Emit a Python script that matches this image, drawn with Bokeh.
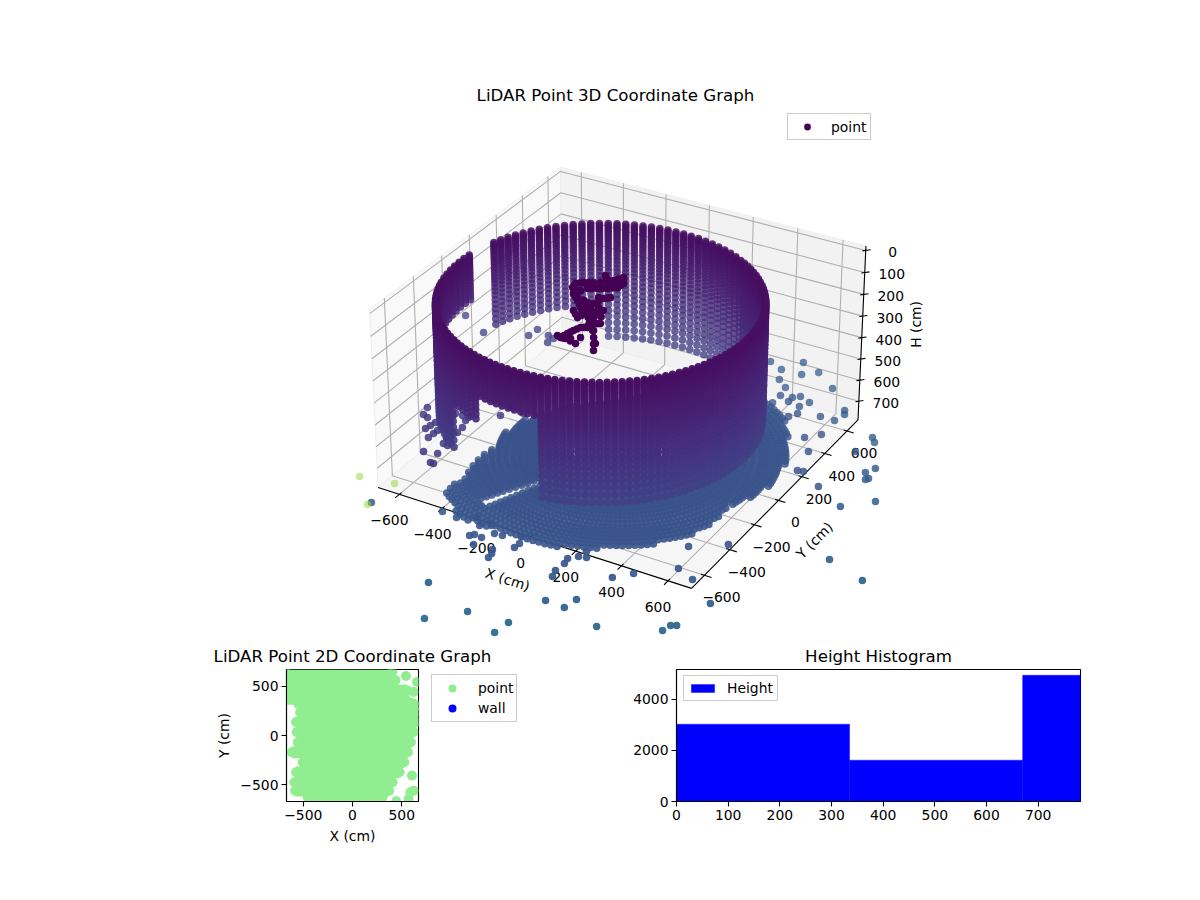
import math
import numpy as np
from bokeh.plotting import figure
from bokeh.layouts import column, row
from bokeh.models import Range1d, FixedTicker, Legend, LegendItem, ColumnDataSource
from bokeh.core.properties import value
from bokeh.palettes import Viridis256
from bokeh.embed import file_html
from bokeh.resources import INLINE

# ------------------------------------------------------------------ data
x_ticks = [-600, -400, -200, 0, 200, 400, 600]
y_ticks = [-600, -400, -200, 0, 200, 400, 600]
h_ticks = [0, 100, 200, 300, 400, 500, 600, 700]
x_lim = [-700, 700]
y_lim = [-700, 700]
h_lim = [-20, 790]

wall_centre = [-1, -165]
wall_radius = 630
wall_azimuth = [0,2.5,5,7.5,10,12.5,15,17.5,20,22.5,25,27.5,30,32.5,35,37.5,40,42.5,45,47.5,50,52.5,55,57.5,
                60,63.2,66.4,69.6,72.8,76,79.2,82.4,85.6,88.8,92,95.2,98.4,101.6,104.8,108,111.2,114.4,117.6,120.8,124,127.2,130.4,133.6,136.8,140,
                143.2,146.4,149.6,152.8,156,159.2,162.4,165.6,168.8,172,175.2,178.4,181.6,184.8,188,191.2,194.4,197.6,
                200,202.5,205,207.5,210,212.5,215,217.5,220,222.5,225,227.5,230,232.5,235,237.5,240,242.5,245,247.5,250,252.5,255,257.5,
                260,262.5,265,267.5,270,272.5,275,277.5,280,282.5,285,287.5,290,292.5,295,297.5,300,302.5,305,307.5,310,312.5,315,317.5,
                320,322.5,325,327.5,330,332.5,335,337.5,340,342.5,345,347.5,350,352.5,355,357.5]
wall_height = [0,8,16,25,34,44,54,65,76,88,100,113,126,140,155,170,186,203,221,240,260,281,303,326,350,375,402,430,460,492,526]
wall_span_start = [0, 120, 163, 174, 208, 240, 255, 280]
wall_span_end = [120, 163, 174, 208, 240, 255, 280, 360]
wall_span_depth = [526, 400, -1, 220, 500, 300, 170, 526]

floor_height = 785
floor_azimuth = [0,2,4,6,8,10,12,14,16,18,20,22,24,26,28,30,32,34,36,38,40,42,44,46,48,50,52,54,56,58,
                 60,62,64,66,68,70,72,74,76,78,80,82,84,86,88,90,92,94,96,98,100,102,104,106,108,110,112,114,116,118,
                 120,122,124,126,128,130,132,134,136,138,140,142,144,146,148,150,152,154,156,158,160,162,164,166,168,170,172,174,176,178,
                 180,182,184,186,188,190,192,194,196,198,200,202,204,206,208,210,212,214,216,218,220,222,224,226,228,230,232,234,236,238,
                 240,242,244,246,248,250,252,254,256,258,260,262,264,266,268,270,272,274,276,278,280,282,284,286,288,290,292,294,296,298,
                 300,302,304,306,308,310,312,314,316,318,320,322,324,326,328,330,332,334,336,338,340,342,344,346,348,350,352,354,356,358]
floor_radius = [35,70,105,140,175,210,240,270,298,326,354,382,410,438,466,494,522,550,575,600,625,650,675,700,725,750,775]
floor_outline_az = [6, 39, 62, 82, 131, 166, 182, 206, 226, 234, 248, 258, 278, 297, 322, 346]
floor_outline_r = [629, 676, 729, 529, 382, 434, 480, 521, 645, 758, 786, 749, 731, 691, 663, 574]
floor_gap_az = [244, 247]
floor_gap_r = [330, 660]

stray_x = [-657,-163,65,-47,232,222,523,276,359,371,413,468,205,216,210,203,232,261,240,-59,-63,-75,-155,-10,-8,-202,-189,-155,-127,-93,-27,-206,-167,-313,-383,-247,811,743,753,772,597,678,558,682,1060,1229,931,792,1033,927,906,929,936,814,838,802,626,640,578,667,691,623,559,623,637,468,447,449,470,416,391,392,299,392,338,501,246,277,329,176,341]
stray_y = [-810,-1161,-1248,-1365,-1233,-1312,-1094,-1045,-1049,-982,-791,-728,-857,-897,-800,-765,-733,-723,-688,-908,-879,-854,-861,-801,-768,-816,-801,-805,-757,-754,-723,-738,-715,-735,-726,-696,-758,-996,-954,-943,-615,-653,-466,-378,-278,-343,74,161,174,392,346,299,312,599,568,468,517,374,462,225,230,641,641,733,704,615,576,669,718,743,719,682,999,956,906,867,901,823,777,937,709]
far_x = [-804, -656, -662]
far_y = [-676, -650, -829]
object_height = 100
object_x = [-235,-242,-219,-185,-174,-138,-125,-104,-79,-83,-113,-147,-180,-207,-164,-126,-109,-98,-85,-66,-45,-40,-22,-45,-56,-64,-71,-51,2,-18,38,88,5,-37,-85,-95,-137,-203,-177,-106,-65,7,67,-5,-34,-89,
            -238,-230,-202,-161,-156,-131,-114,-91,-81,-98,-130,-163,-193,-185,-150,-115,-100,
            -185,-145,-117,-103,-91,-75,-145,-120,
            -42,-31,-33,-50,-60,-67,-61,-25,10,63,-6,-60,-70,-90,-116,-111,-75,-55,-20]
object_y = [17,51,73,93,167,121,147,188,145,105,78,58,39,-24,-64,-107,-97,-54,0,21,-115,-177,-230,-243,-277,-308,-348,-345,-359,-191,-285,-371,-178,-83,-139,-181,-141,7,-44,-3,-72,-240,-321,-310,-335,-340,
            34,62,83,107,144,134,167,166,125,91,68,48,8,66,90,112,130,
            -44,-85,-102,-75,-27,10,-50,-60,
            -146,-203,-236,-260,-292,-328,-346,-352,-238,-328,-185,-160,-125,-160,-161,-122,-105,-95,-130]
cluster_height = 600
cluster_x = [-675,-691,-521,-562,-561,-609,-560,-487,-496,-484,-488,-569,-537,-508,-506,-549,-579,-600,-605,-501,-466,-440,-454,-465,-648,-621,-580,-407,-402,-336,-335]
cluster_y = [-404,-351,-638,-541,-506,-490,-479,-549,-485,-453,-411,-335,-334,-335,-360,-402,-429,-432,-461,-506,-623,-692,-692,-554,-416,-364,-376,-259,-184,-200,-128]
inner_height = 526
inner_x = [-893,-579,-574,-482,-509,-478,-752]
inner_y = [249,236,297,225,276,265,165]

row_y = [644,560,458,373,322,237,136,34,-68,-170,-271,-373,-475,-560,-628,-678]
row_left = [-680,-680,-680,-680,-550,-532,-573,-566,-556,-617,-505,-573,-590,-583,-455,-387]
row_right = [404,438,556,539,620,650,650,620,593,563,526,478,407,373,305,237]
blob_x = [543,655,621,655,604,587,444,621,570]
blob_y = [604,543,441,305,-407,-577,-668,-560,-644]

hist_edges = [0, 335, 670, 785]
hist_counts = [3030, 1620, 4950]

FONT = "DejaVu Sans"
TICK = "13.9px"
TITLE = "16.67px"

# ------------------------------------------------------------------ view of the 3D box
el, az = math.radians(30), math.radians(-60)
view_n = np.array([math.cos(el)*math.cos(az), math.cos(el)*math.sin(az), math.sin(el)])
view_u = np.array([-view_n[1], view_n[0], 0.0]); view_u /= np.linalg.norm(view_u)
view_v = np.cross(view_n, view_u)
HALF_XY, HALF_H, DIST = 0.5952, 0.339, 10.0


def box(x, y, h):
    x = np.asarray(x, float); y = np.asarray(y, float); h = np.asarray(h, float)
    return (x/x_lim[1]*HALF_XY, y/y_lim[1]*HALF_XY, HALF_H-(h-h_lim[0])/(h_lim[1]-h_lim[0])*2*HALF_H)


def depth(x, y, h):
    a, b, c = box(x, y, h)
    return view_n[0]*a+view_n[1]*b+view_n[2]*c


def proj(x, y, h):
    a, b, c = box(x, y, h)
    d = DIST-(view_n[0]*a+view_n[1]*b+view_n[2]*c)
    return ((view_u[0]*a+view_u[1]*b)/d, (view_v[0]*a+view_v[1]*b+view_v[2]*c)/d)


def path(pts):
    xs, ys = proj([p[0] for p in pts], [p[1] for p in pts], [p[2] for p in pts])
    return list(xs), list(ys)


# ------------------------------------------------------------------ point cloud
wx, wy, wh, wt = [], [], [], []
for a in wall_azimuth:
    limit = 0
    for s, e, d in zip(wall_span_start, wall_span_end, wall_span_depth):
        if s <= a < e:
            limit = d
    for h in wall_height:
        if h <= limit:
            wx.append(wall_centre[0]+wall_radius*math.cos(math.radians(a)))
            wy.append(wall_centre[1]+wall_radius*math.sin(math.radians(a)))
            wh.append(h)
            wt.append(float(np.interp(h, [0, 526], [0.04, 0.19])))

fx, fy, fh, ft = [], [], [], []
for a in floor_azimuth:
    edge = float(np.interp(a, floor_outline_az, floor_outline_r, period=360))
    for r in floor_radius:
        if r > edge:
            continue
        if floor_gap_az[0] <= a <= floor_gap_az[1] and floor_gap_r[0] <= r <= floor_gap_r[1]:
            continue
        fx.append(r*math.cos(math.radians(a)))
        fy.append(r*math.sin(math.radians(a)))
        fh.append(floor_height)
        ft.append(0.23+0.04*r/800)

sx_t = [float(np.interp(math.hypot(a, b), [500, 1500], [0.22, 0.38])) for a, b in zip(stray_x, stray_y)]
all_x = np.array(wx+fx+stray_x+far_x+object_x+cluster_x+inner_x, float)
all_y = np.array(wy+fy+stray_y+far_y+object_y+cluster_y+inner_y, float)
all_h = np.array(wh+fh+[floor_height]*len(stray_x)+[floor_height]*len(far_x)+[object_height]*len(object_x)
                 + [cluster_height]*len(cluster_x)+[inner_height]*len(inner_x), float)
all_t = np.array(wt+ft+sx_t+[0.85]*len(far_x)+[0.0]*len(object_x)+[0.17]*len(cluster_x)+[0.2]*len(inner_x))
dep = depth(all_x, all_y, all_h)
order = np.argsort(dep)
px, py = proj(all_x, all_y, all_h)
cols = [Viridis256[int(t*255)] for t in all_t]
alphas = np.interp(dep, [-0.6, 0.55], [0.74, 0.95])
far_at = len(wx)+len(fx)+len(stray_x)
alphas[far_at:far_at+len(far_x)] = 0.55
alphas[far_at+len(far_x):far_at+len(far_x)+len(object_x)] = 1.0
cloud = ColumnDataSource(dict(x=px[order], y=py[order], c=[cols[i] for i in order], a=alphas[order]))
key_index = int(np.where(order == far_at+len(far_x))[0][0])

# ------------------------------------------------------------------ 3D figure
p3 = figure(width=1192, height=640, output_backend="svg", toolbar_location=None,
            x_range=Range1d((38-622)/3000, (1192-622)/3000), y_range=Range1d((366-640)/3000, (366-106)/3000),
            min_border_left=38, min_border_right=0, min_border_top=106, min_border_bottom=0,
            title="LiDAR Point 3D Coordinate Graph")
p3.title.align = "center"; p3.title.text_font = FONT; p3.title.text_font_size = TITLE
p3.title.text_font_style = "normal"; p3.title.standoff = 3; p3.title.text_color = "black"
p3.axis.visible = False; p3.grid.visible = False; p3.outline_line_color = None

X0, X1, Y0, Y1, H0, H1 = x_lim[0], x_lim[1], y_lim[0], y_lim[1], h_lim[0], h_lim[1]
panes = [([(X0, Y0, H1), (X0, Y1, H1), (X0, Y1, H0), (X0, Y0, H0)], "#f9f9f9"),
         ([(X0, Y1, H1), (X1, Y1, H1), (X1, Y1, H0), (X0, Y1, H0)], "#f2f2f2"),
         ([(X0, Y0, H1), (X1, Y0, H1), (X1, Y1, H1), (X0, Y1, H1)], "#f6f6f6")]
for pts, col in panes:
    a, b = path(pts)
    p3.patch(a, b, fill_color=col, line_color="#eeeeee", line_width=1)

gx, gy = [], []
for t in x_ticks:
    a, b = path([(t, Y0, H1), (t, Y1, H1), (t, Y1, H0)]); gx.append(a); gy.append(b)
for t in y_ticks:
    a, b = path([(X1, t, H1), (X0, t, H1), (X0, t, H0)]); gx.append(a); gy.append(b)
for t in h_ticks:
    a, b = path([(X0, Y0, t), (X0, Y1, t), (X1, Y1, t)]); gx.append(a); gy.append(b)
p3.multi_line(gx, gy, line_color="#b0b0b0", line_width=1.1)

ax, ay = [], []
for pts in ([(X0, Y0, H1), (X1, Y0, H1)], [(X1, Y0, H1), (X1, Y1, H1)], [(X1, Y1, H1), (X1, Y1, H0)]):
    a, b = path(pts); ax.append(a); ay.append(b)
for t in x_ticks:
    a, b = path([(t, Y0+15, H1), (t, Y0-30, H1)]); ax.append(a); ay.append(b)
for t in y_ticks:
    a, b = path([(X1-15, t, H1), (X1+30, t, H1)]); ax.append(a); ay.append(b)
for t in h_ticks:
    a, b = path([(X1-10, Y1-10, t), (X1+14, Y1+14, t)]); ax.append(a); ay.append(b)
p3.multi_line(ax, ay, line_color="black", line_width=1.1)


def fmt(v):
    return str(v).replace("-", "\u2212")


def put(xs, ys, labels, dx, dy, angle=0.0):
    p3.text(xs, ys, text=labels, x_offset=dx, y_offset=dy, angle=angle, text_align="center",
            text_baseline="middle", text_font=value(FONT), text_font_size=TICK, text_color="black")


a, b = proj(x_ticks, [Y0]*len(x_ticks), [H1]*len(x_ticks))
put(list(a), list(b), [fmt(t) for t in x_ticks], -10, 26)
a, b = proj([X1]*len(y_ticks), y_ticks, [H1]*len(y_ticks))
put(list(a), list(b), [fmt(t) for t in y_ticks], 17, 22)
a, b = proj([X1]*len(h_ticks), [Y1]*len(h_ticks), h_ticks)
put(list(a), list(b), [fmt(t) for t in h_ticks], 27, 2)
a, b = proj([0], [Y0], [H1]); put(list(a), list(b), ["X (cm)"], -23, 43, -0.31)
a, b = proj([X1], [0], [H1]); put(list(a), list(b), ["Y (cm)"], 36, 40, 0.79)
a, b = proj([X1], [Y1], [385]); put(list(a), list(b), ["H (cm)"], 54, -10, math.pi/2)

main = p3.scatter("x", "y", source=cloud, size=7.5, marker="circle", fill_color="c", fill_alpha="a", line_color=None)


def style_legend(lg):
    lg.label_text_font = FONT; lg.label_text_font_size = TICK
    lg.border_line_color = "#cccccc"; lg.border_line_alpha = 1; lg.border_line_width = 1.1
    lg.background_fill_alpha = 0.8; lg.margin = 0; lg.spacing = 0
    lg.label_text_color = "black"


lg3 = Legend(items=[LegendItem(label="point", renderers=[main], index=key_index)], location=(749, 500), orientation="vertical")
style_legend(lg3)
lg3.padding = 4; lg3.glyph_width = 30; lg3.glyph_height = 17; lg3.label_standoff = 9; lg3.label_height = 14
p3.add_layout(lg3, "center")


# ------------------------------------------------------------------ 2D figures
def style_axes(f):
    f.title.align = "center"; f.title.text_font = FONT; f.title.text_font_size = TITLE
    f.title.text_font_style = "normal"; f.title.standoff = 8; f.title.text_color = "black"
    f.grid.visible = False
    f.outline_line_color = "black"; f.outline_line_width = 1.1; f.outline_line_alpha = 1
    for ax_ in (f.xaxis[0], f.yaxis[0]):
        ax_.major_label_text_font = FONT; ax_.major_label_text_font_size = TICK
        ax_.major_label_text_color = "black"; ax_.major_label_standoff = 3
        ax_.major_tick_out = 5; ax_.major_tick_in = 0; ax_.major_tick_line_width = 1.1
        ax_.major_tick_line_color = "black"; ax_.minor_tick_line_color = None
        ax_.axis_line_color = "black"; ax_.axis_line_width = 1.1
        ax_.axis_label_text_font = FONT; ax_.axis_label_text_font_size = TICK
        ax_.axis_label_text_font_style = "normal"; ax_.axis_label_text_color = "black"
        ax_.axis_label_standoff = 5


p2 = figure(frame_width=132, frame_height=132, output_backend="svg", toolbar_location=None,
            x_range=Range1d(-670, 670), y_range=Range1d(-670, 670),
            min_border_left=286, min_border_right=0, min_border_top=29, min_border_bottom=59,
            title="LiDAR Point 2D Coordinate Graph", x_axis_label="X (cm)", y_axis_label="Y (cm)")
style_axes(p2)
ticks2 = [-500, 0, 500]
labels2 = {-500: "\u2212500", 0: "0", 500: "500"}
p2.xaxis.ticker = FixedTicker(ticks=ticks2); p2.yaxis.ticker = FixedTicker(ticks=ticks2)
p2.xaxis.major_label_overrides = labels2; p2.yaxis.major_label_overrides = labels2
p2.hbar(y=row_y, left=row_left, right=row_right, height=120, fill_color="lightgreen", line_color=None)
pt = p2.scatter(row_left+row_right+blob_x, row_y+row_y+blob_y, size=10, marker="circle",
                fill_color="lightgreen", line_color=None)
wl = p2.scatter([2000], [2000], size=9, marker="circle", fill_color="blue", line_color=None)
lg2 = Legend(items=[LegendItem(label="point", renderers=[pt], index=0), LegendItem(label="wall", renderers=[wl], index=0)],
             location=(13, 79), orientation="vertical")
style_legend(lg2)
lg2.padding = 3; lg2.glyph_width = 34; lg2.glyph_height = 20; lg2.label_standoff = 9; lg2.label_height = 14
p2.add_layout(lg2, "right")

ph = figure(width=642, height=220, output_backend="svg", toolbar_location=None,
            x_range=Range1d(0, 782), y_range=Range1d(0, 5176),
            min_border_left=126, min_border_right=112, min_border_top=29, min_border_bottom=59,
            title="Height Histogram", margin=(0, 0, 0, -420))
style_axes(ph)
ph.xaxis.ticker = FixedTicker(ticks=[0, 100, 200, 300, 400, 500, 600, 700])
ph.yaxis.ticker = FixedTicker(ticks=[0, 2000, 4000])
bars = ph.quad(left=hist_edges[:-1], right=hist_edges[1:], bottom=[0, 0, 0], top=hist_counts,
               fill_color="blue", line_color="blue", line_width=0.4)
lgh = Legend(items=[LegendItem(label="Height", renderers=[bars])], location=(7, 100), orientation="vertical")
style_legend(lgh)
lgh.padding = 4; lgh.glyph_width = 29; lgh.glyph_height = 10; lgh.label_standoff = 10; lgh.label_height = 14
ph.add_layout(lgh, "center")

page = column(p3, row(p2, ph, spacing=0), spacing=0)
open("out.html", "w").write(file_html(page, INLINE))
